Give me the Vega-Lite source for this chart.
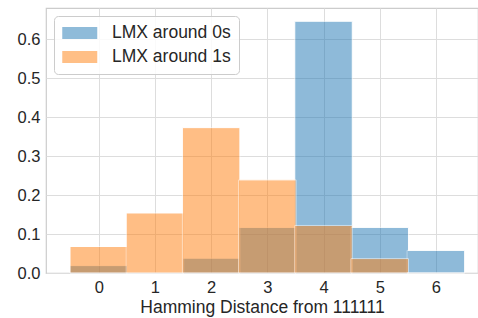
{
  "$schema": "https://vega.github.io/schema/vega-lite/v6.json",
  "width": 432,
  "height": 265,
  "autosize": {"type": "none"},
  "padding": {"left": 46, "top": 8, "right": 0, "bottom": 45},
  "background": "white",
  "config": {
    "font": "Liberation Sans",
    "view": {"stroke": "#cccccc", "strokeWidth": 1.2},
    "axis": {
      "labelFont": "Liberation Sans",
      "labelFontSize": 16.5,
      "labelColor": "#262626",
      "titleFont": "Liberation Sans",
      "titleFontSize": 17.5,
      "titleFontWeight": "normal",
      "titleColor": "#262626",
      "gridColor": "#dddddd",
      "gridWidth": 1,
      "domain": false,
      "ticks": false,
      "labelPadding": 6
    }
  },
  "data": {
    "values": [
      {"distance": 0, "group": "LMX around 0s", "freq": 0.019},
      {"distance": 1, "group": "LMX around 0s", "freq": 0.0},
      {"distance": 2, "group": "LMX around 0s", "freq": 0.038},
      {"distance": 3, "group": "LMX around 0s", "freq": 0.117},
      {"distance": 4, "group": "LMX around 0s", "freq": 0.646},
      {"distance": 5, "group": "LMX around 0s", "freq": 0.117},
      {"distance": 6, "group": "LMX around 0s", "freq": 0.058},
      {"distance": 0, "group": "LMX around 1s", "freq": 0.068},
      {"distance": 1, "group": "LMX around 1s", "freq": 0.154},
      {"distance": 2, "group": "LMX around 1s", "freq": 0.373},
      {"distance": 3, "group": "LMX around 1s", "freq": 0.239},
      {"distance": 4, "group": "LMX around 1s", "freq": 0.122},
      {"distance": 5, "group": "LMX around 1s", "freq": 0.037},
      {"distance": 6, "group": "LMX around 1s", "freq": 0.0}
    ]
  },
  "mark": {"type": "bar", "width": 57.5, "opacity": 0.5, "stroke": "white", "strokeWidth": 1, "strokeOpacity": 1},
  "encoding": {
    "x": {
      "field": "distance",
      "type": "quantitative",
      "scale": {"domain": [-0.85, 6.66], "nice": false, "zero": false},
      "axis": {"values": [0, 1, 2, 3, 4, 5, 6], "title": "Hamming Distance from 111111", "titlePadding": 3}
    },
    "y": {
      "field": "freq",
      "type": "quantitative",
      "stack": null,
      "scale": {"domain": [0, 0.68], "nice": false},
      "axis": {"values": [0, 0.1, 0.2, 0.3, 0.4, 0.5, 0.6], "format": ".1f", "title": null}
    },
    "color": {
      "field": "group",
      "type": "nominal",
      "scale": {"domain": ["LMX around 0s", "LMX around 1s"], "range": ["#1f77b4", "#ff7f0e"]},
      "legend": {
        "title": null,
        "orient": "none",
        "legendX": 8,
        "legendY": 8,
        "padding": 8,
        "strokeColor": "#cccccc",
        "fillColor": "rgba(255,255,255,0.85)",
        "cornerRadius": 4,
        "symbolType": "M-1,-0.68H3V0.68H-1Z",
        "symbolSize": 306,
        "symbolOpacity": 0.5,
        "symbolStrokeWidth": 0,
        "labelFont": "Liberation Sans",
        "labelFontSize": 17.5,
        "labelColor": "#262626",
        "labelOffset": 32,
        "rowPadding": 6
      }
    }
  }
}
